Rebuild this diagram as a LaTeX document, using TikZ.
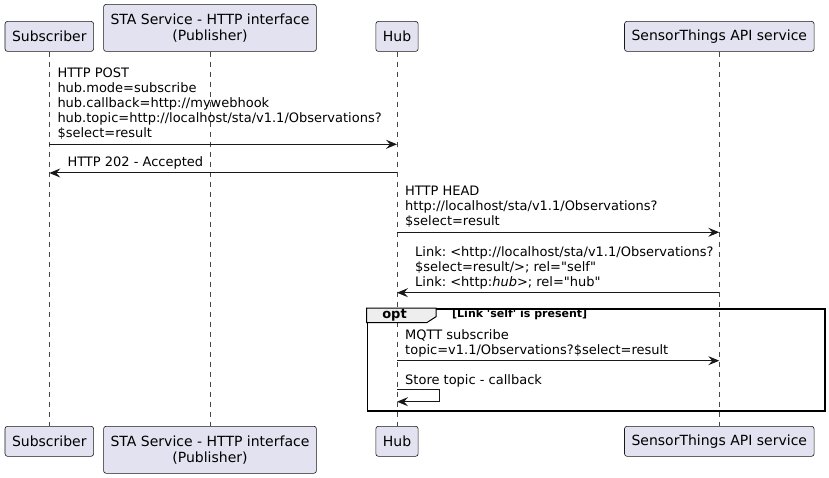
\documentclass[tikz,border=0pt]{standalone}
\usepackage{fontspec}
\setmainfont{DejaVu Sans}[Ligatures=TeXOff]
\frenchspacing
\usetikzlibrary{arrows.meta,calc,positioning}
\definecolor{PartFill}{HTML}{E2E2F0}
\definecolor{Ink}{HTML}{181818}
\definecolor{TabFill}{HTML}{EEEEEE}

\begin{document}
\begin{tikzpicture}[x=1pt,y=-1pt,
      msg/.style={-{Stealth[length=11pt,width=9pt,inset=4pt]},Ink,line width=1pt},
      partbox/.style={draw=Ink,fill=PartFill,rounded corners=2.5pt,line width=0.6pt,
                      font=\fontsize{14}{16.3}\selectfont,align=center,
                      inner xsep=7pt,minimum height=30pt},
      life/.style={Ink!80,dash pattern=on 5pt off 5pt,line width=0.6pt},
      msgtext/.style={anchor=south west,inner sep=0pt,align=left,
                      font=\fontsize{13}{15}\selectfont,execute at end node=\strut}]
    \useasboundingbox (0,0) rectangle (829,478);
    \node[partbox,anchor=south] (sub) at (49.3,51.7) {Subscriber};
    \node[partbox,anchor=south,minimum height=47pt] (sta) at (210,51.7)
      {STA Service - HTTP interface\\(Publisher)};
    \node[partbox,anchor=south] (hub) at (397,51.7) {Hub};
    \node[partbox,anchor=south] (sts) at (719.3,51.7) {SensorThings API service};
    \node[partbox,anchor=north] (subB) at (49.3,426) {Subscriber};
    \node[partbox,anchor=north,minimum height=47pt] (staB) at (210,426)
      {STA Service - HTTP interface\\(Publisher)};
    \node[partbox,anchor=north] (hubB) at (397,426) {Hub};
    \node[partbox,anchor=north] (stsB) at (719.3,426) {SensorThings API service};
    \foreach \p in {sub,sta,hub,sts}
      \draw[life] (\p) -- (\p B);
    % messages
    \coordinate (m1) at (0,144.3);
    \coordinate (m2) at (0,173);
    \coordinate (m3) at (0,232.3);
    \coordinate (m4) at (0,292.7);
    \coordinate (m5) at (0,360.7);
    \coordinate (m6) at (0,389.3);
    \draw[msg] (sub |- m1) -- (hub |- m1);
    \node[msgtext] (t1) at ($(sub |- m1)+(8,-1.8)$)
      {HTTP POST\\hub.mode=subscribe\\hub.callback=http://mywebhook\\
       hub.topic=http://localhost/sta/v1.1/Observations?\\\$select=result};
    \draw[msg] (hub |- m2) -- (sub |- m2);
    \node[msgtext] (t2) at ($(sub |- m2)+(18,-1.8)$) {HTTP 202 - Accepted};
    \draw[msg] (hub |- m3) -- (sts |- m3);
    \node[msgtext] (t3) at ($(hub |- m3)+(8,-1.8)$)
      {HTTP HEAD\\http://localhost/sta/v1.1/Observations?\\\$select=result};
    \draw[msg] (sts |- m4) -- (hub |- m4);
    \node[msgtext] (t4) at ($(hub |- m4)+(18,-1.8)$)
      {Link: <http://localhost/sta/v1.1/Observations?\\
       \$select=result/>; rel="self"\\Link: <http:\textit{hub}>; rel="hub"};
    % opt fragment
    \node[draw=black,line width=1.5pt,anchor=north west,inner sep=0pt,
          minimum width=457.6pt,minimum height=102pt] (opt) at (366.7,308) {};
    \draw[black,line width=1pt,fill=TabFill]
      (opt.north west) -- ++(69.3,0) -- ++(0,8.7) -- ++(-9.3,6) -- ++(-60,0) -- cycle;
    \node[font=\fontsize{13}{15}\selectfont\bfseries,inner sep=0pt] (optname)
      at (394.5,315.5) {opt};
    \node[font=\fontsize{11}{13}\selectfont\bfseries,anchor=west,inner sep=0pt] (optcond)
      at (452,314.5) {[Link 'self' is present]};
    \draw[msg] (hub |- m5) -- (sts |- m5);
    \node[msgtext] (t5) at ($(hub |- m5)+(8,-1.8)$)
      {MQTT subscribe\\topic=v1.1/Observations?\$select=result};
    \draw[msg] (hub |- m6) -- ++(42.3,0) -- ++(0,12.4) -- ++(-42.3,0);
    \node[msgtext] (t6) at ($(hub |- m6)+(8,0)$) {Store topic - callback};
  \end{tikzpicture}
\end{document}
